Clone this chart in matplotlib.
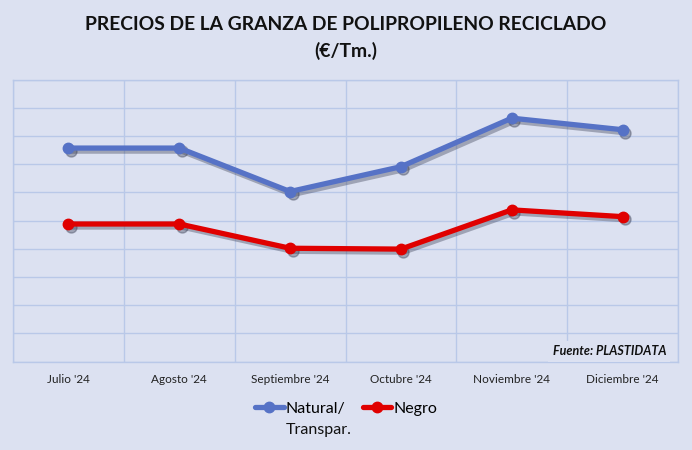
import matplotlib
matplotlib.use("Agg")
import matplotlib.pyplot as plt
import matplotlib.transforms as mtransforms
import numpy as np

months = ["Julio '24", "Agosto '24", "Septiembre '24", "Octubre '24", "Noviembre '24", "Diciembre '24"]
natural = [757, 757, 603, 691, 863, 822]
negro = [488, 488, 402, 399, 538, 514]
series_names = ["Natural/", "Negro"]
series_extra = "Transpar."

BG = "#DCE1F1"
GRID = "#B9C8E8"
BLUE = "#5672C6"
RED = "#E00000"

plt.rcParams['font.family'] = ['Lato', 'DejaVu Sans']

fig = plt.figure(figsize=(6.92, 4.5), dpi=100, facecolor=BG)
ax = fig.add_axes([13/692, 1-361.7/450, (678-13)/692, (361.7-79.5)/450])
ax.set_facecolor(BG)

x = np.arange(len(months))
shadow_tr = ax.transData + mtransforms.ScaledTranslation(1.8/72, -2.0/72, fig.dpi_scale_trans)
for vals in (natural, negro):
    ax.plot(x, vals, color="#3a3f55", lw=4.2, marker="o", ms=8, alpha=0.38,
            transform=shadow_tr, zorder=3, solid_capstyle="round")
ax.plot(x, natural, color=BLUE, lw=3.8, marker="o", ms=7.5, solid_capstyle="round",
        label=series_names[0], zorder=4)
ax.plot(x, negro, color=RED, lw=3.8, marker="o", ms=7.5, solid_capstyle="round",
        label=series_names[1], zorder=4)

ax.set_xlim(-0.5, len(months) - 0.5)
ax.set_ylim(0, 1000)
ax.set_yticks(np.arange(0, 1001, 100))
ax.set_yticklabels([])
ax.set_xticks(x)
ax.set_xticklabels(months, fontsize=8.5, color="#222222")
ax.set_xticks(np.arange(-0.5, len(months), 1), minor=True)
ax.tick_params(axis="both", length=0, pad=9)
ax.tick_params(axis="x", which="minor", length=0)
ax.grid(True, axis="y", which="major", color=GRID, lw=1)
ax.grid(True, axis="x", which="minor", color=GRID, lw=1)
ax.set_axisbelow(True)
for s in ax.spines.values():
    s.set_color(GRID)
    s.set_linewidth(1)

ax.text(0.982, 0.015, "Fuente: PLASTIDATA", transform=ax.transAxes, ha="right", va="bottom",
        fontsize=9, fontweight="bold", fontstyle="italic", color="#111111", zorder=3,
        bbox=dict(boxstyle="square,pad=0.35", facecolor=BG, edgecolor="none"))

fig.text(0.5, 1-24/450, "PRECIOS DE LA GRANZA DE POLIPROPILENO RECICLADO", ha="center", va="center",
         fontsize=13.9, fontweight="bold", color="#111111")
fig.text(0.5, 1-51/450, "(€/Tm.)", ha="center", va="center",
         fontsize=13.9, fontweight="bold", color="#111111")

leg = fig.legend(loc="upper center", bbox_to_anchor=(0.5, 1-395/450), ncol=2, frameon=False,
                 fontsize=11.5, handlelength=1.8, handletextpad=0.1, columnspacing=1.1,
                 borderaxespad=0)

fig.canvas.draw()
bb = leg.get_texts()[0].get_window_extent()
fig.text(bb.x0 / fig.bbox.width, (bb.y0 - 7) / fig.bbox.height, series_extra,
         ha="left", va="top", fontsize=11.5, color="#111111")

fig.savefig("out.png", dpi=100, facecolor=BG)
